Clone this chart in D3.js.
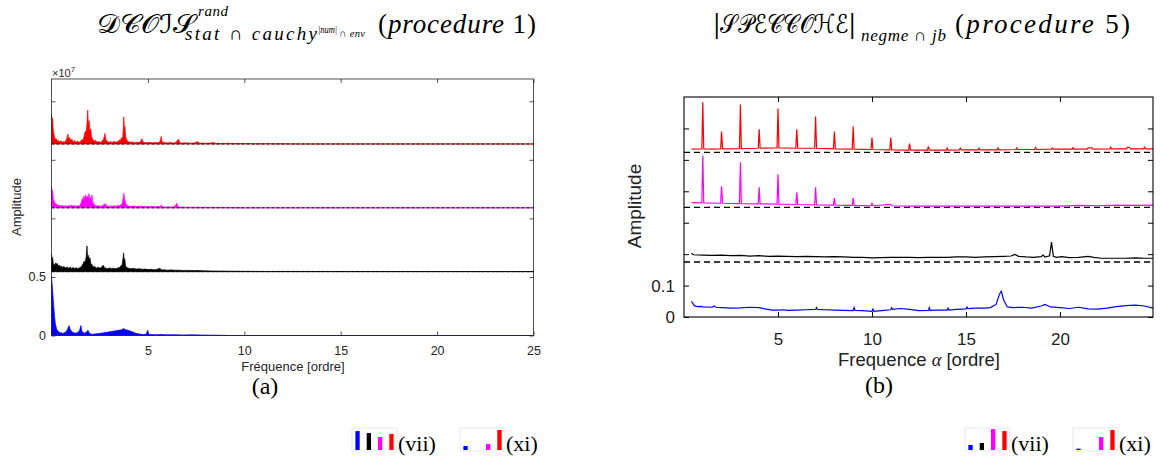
<!DOCTYPE html>
<html><head><meta charset="utf-8">
<script src="https://cdn.jsdelivr.net/npm/d3@7"></script>
<style>body{margin:0;background:#fff}svg{display:block}</style>
</head><body><svg id="c" width="1160" height="461"></svg>
<script>
// ---------- DATA ----------
const seriesColors = ["#0000ff", "#000000", "#ff00ff", "#ff0000"]; // blue, black, magenta, red

// panel (a)
const xTicksA = [5, 10, 15, 20, 25];
const yTicksA = [0, 0.5, 1, 1.5, 2];
const yTickLabelsA = ["0", "0.5", "", "", ""];
const offsetsA = [0, 0.545, 1.09, 1.635];
const blueA = [[0,0.5],[0.02,0.46],[0.04,0.43],[0.06,0.38],[0.08,0.33],[0.1,0.28],[0.12,0.24],[0.14,0.2],[0.16,0.16],[0.18,0.13],[0.2,0.1],[0.23,0.08],[0.26,0.06],[0.3,0.045],[0.35,0.035],[0.4,0.03],[0.46,0.022],[0.52,0.025],[0.58,0.018],[0.64,0.022],[0.7,0.025],[0.76,0.035],[0.82,0.05],[0.87,0.07],[0.91,0.085],[0.95,0.06],[1.0,0.045],[1.06,0.03],[1.14,0.025],[1.22,0.02],[1.3,0.022],[1.38,0.03],[1.45,0.04],[1.5,0.07],[1.53,0.085],[1.57,0.04],[1.63,0.025],[1.7,0.02],[1.78,0.025],[1.84,0.035],[1.89,0.045],[1.93,0.03],[2.0,0.015],[2.1,0.01],[2.2,0.012],[2.35,0.015],[2.5,0.018],[2.65,0.022],[2.8,0.026],[2.95,0.03],[3.1,0.034],[3.25,0.038],[3.4,0.042],[3.55,0.046],[3.65,0.05],[3.72,0.06],[3.78,0.055],[3.85,0.05],[3.95,0.045],[4.05,0.04],[4.15,0.034],[4.25,0.028],[4.35,0.02],[4.5,0.014],[4.65,0.01],[4.8,0.008],[4.93,0.015],[4.98,0.045],[5.02,0.012],[5.15,0.008],[5.4,0.007],[5.7,0.008],[6.0,0.006],[6.4,0.007],[6.8,0.005],[7.3,0.006],[7.8,0.004],[8.3,0.003],[8.8,0.002],[9.2,0],[25,0]];
const blackA = [[0,0.15],[0.03,0.1],[0.06,0.12],[0.09,0.07],[0.13,0.055],[0.17,0.06],[0.21,0.075],[0.25,0.065],[0.3,0.07],[0.35,0.05],[0.4,0.055],[0.46,0.04],[0.52,0.05],[0.58,0.035],[0.65,0.045],[0.72,0.032],[0.8,0.04],[0.88,0.03],[0.96,0.038],[1.04,0.028],[1.12,0.035],[1.2,0.026],[1.28,0.034],[1.36,0.025],[1.44,0.032],[1.52,0.04],[1.58,0.05],[1.64,0.07],[1.7,0.09],[1.75,0.08],[1.8,0.13],[1.84,0.22],[1.87,0.12],[1.91,0.14],[1.95,0.1],[1.99,0.12],[2.04,0.07],[2.1,0.06],[2.16,0.04],[2.24,0.045],[2.32,0.03],[2.42,0.038],[2.52,0.03],[2.6,0.04],[2.68,0.055],[2.74,0.035],[2.82,0.03],[2.92,0.025],[3.02,0.032],[3.12,0.025],[3.22,0.03],[3.32,0.024],[3.42,0.03],[3.52,0.035],[3.6,0.05],[3.66,0.06],[3.7,0.1],[3.74,0.16],[3.77,0.09],[3.8,0.11],[3.84,0.05],[3.9,0.035],[3.98,0.03],[4.1,0.025],[4.25,0.028],[4.4,0.022],[4.55,0.025],[4.7,0.02],[4.85,0.022],[5.0,0.018],[5.15,0.02],[5.3,0.016],[5.45,0.018],[5.55,0.025],[5.62,0.03],[5.7,0.015],[5.85,0.016],[6.0,0.013],[6.2,0.015],[6.4,0.012],[6.6,0.013],[6.8,0.01],[7.0,0.011],[7.3,0.009],[7.6,0.01],[7.9,0.007],[8.3,0.006],[8.8,0.005],[9.4,0.004],[10,0.003],[11,0.002],[12,0.002],[25,0.001]];
const magentaA = [[0,0.18],[0.03,0.13],[0.06,0.15],[0.09,0.08],[0.13,0.06],[0.17,0.045],[0.22,0.035],[0.28,0.03],[0.34,0.02],[0.4,0.025],[0.48,0.015],[0.56,0.02],[0.64,0.013],[0.72,0.018],[0.8,0.012],[0.88,0.02],[0.96,0.015],[1.04,0.022],[1.12,0.014],[1.2,0.02],[1.28,0.012],[1.36,0.018],[1.44,0.013],[1.5,0.03],[1.55,0.05],[1.6,0.08],[1.64,0.06],[1.68,0.1],[1.72,0.07],[1.77,0.11],[1.81,0.08],[1.86,0.1],[1.9,0.07],[1.94,0.12],[1.98,0.08],[2.02,0.09],[2.06,0.05],[2.1,0.11],[2.14,0.05],[2.2,0.03],[2.28,0.02],[2.36,0.015],[2.46,0.018],[2.56,0.012],[2.66,0.02],[2.74,0.03],[2.8,0.035],[2.86,0.015],[2.96,0.012],[3.06,0.016],[3.16,0.012],[3.26,0.018],[3.36,0.014],[3.46,0.02],[3.54,0.018],[3.62,0.03],[3.68,0.04],[3.72,0.09],[3.75,0.125],[3.79,0.08],[3.83,0.05],[3.9,0.02],[4.0,0.015],[4.15,0.013],[4.3,0.016],[4.45,0.012],[4.6,0.014],[4.75,0.011],[4.9,0.013],[5.05,0.01],[5.2,0.014],[5.35,0.01],[5.5,0.012],[5.62,0.01],[5.7,0.025],[5.76,0.008],[5.9,0.008],[6.1,0.009],[6.3,0.007],[6.45,0.02],[6.5,0.04],[6.55,0.01],[6.7,0.007],[6.9,0.006],[7.2,0.005],[7.5,0.006],[7.8,0.004],[8.2,0.004],[8.7,0.003],[9.2,0.002],[10,0.001],[25,0.001]];
const redA = [[0,0.26],[0.03,0.2],[0.06,0.22],[0.09,0.12],[0.12,0.09],[0.16,0.06],[0.2,0.04],[0.25,0.045],[0.3,0.025],[0.36,0.03],[0.42,0.018],[0.5,0.025],[0.56,0.015],[0.62,0.02],[0.68,0.014],[0.74,0.03],[0.8,0.05],[0.85,0.085],[0.89,0.04],[0.94,0.055],[1.0,0.03],[1.06,0.04],[1.12,0.02],[1.2,0.028],[1.28,0.016],[1.36,0.024],[1.44,0.014],[1.52,0.022],[1.58,0.04],[1.64,0.03],[1.7,0.075],[1.75,0.11],[1.8,0.1],[1.84,0.17],[1.88,0.29],[1.91,0.16],[1.95,0.2],[1.99,0.11],[2.03,0.13],[2.08,0.06],[2.14,0.04],[2.2,0.025],[2.28,0.03],[2.36,0.018],[2.45,0.02],[2.55,0.014],[2.64,0.025],[2.72,0.05],[2.77,0.09],[2.81,0.04],[2.88,0.025],[2.96,0.015],[3.05,0.02],[3.14,0.013],[3.24,0.022],[3.34,0.015],[3.44,0.02],[3.52,0.035],[3.58,0.03],[3.64,0.055],[3.69,0.05],[3.72,0.12],[3.75,0.23],[3.78,0.13],[3.81,0.15],[3.85,0.06],[3.9,0.035],[3.98,0.02],[4.08,0.015],[4.2,0.018],[4.32,0.01],[4.44,0.016],[4.55,0.012],[4.64,0.025],[4.69,0.045],[4.74,0.02],[4.82,0.012],[4.95,0.01],[5.1,0.014],[5.25,0.009],[5.4,0.013],[5.55,0.01],[5.64,0.025],[5.69,0.065],[5.73,0.02],[5.85,0.012],[6.0,0.009],[6.15,0.013],[6.3,0.008],[6.45,0.012],[6.56,0.035],[6.6,0.04],[6.65,0.01],[6.8,0.009],[7.0,0.01],[7.2,0.007],[7.4,0.009],[7.55,0.018],[7.6,0.02],[7.66,0.007],[7.85,0.008],[8.05,0.006],[8.25,0.008],[8.4,0.013],[8.5,0.006],[8.8,0.005],[9.1,0.006],[9.5,0.004],[10,0.004],[10.6,0.003],[11.2,0.003],[12,0.002],[13,0.001],[25,0.001]];

// panel (b)
const xTicksB = [5, 10, 15, 20];
const yTicksB = [0, 0.1, 0.2, 0.3, 0.4, 0.5, 0.6];
const yTickLabelsB = ["0", "0.1", "", "", "", "", ""];
const dashedB = [0.175, 0.349, 0.524];
const blueB = [[0.4,0.05],[0.45,0.045],[0.55,0.036],[0.7,0.033],[0.9,0.034],[1,0.032],[1.5,0.031],[1.6,0.035],[1.7,0.031],[2,0.03],[2.5,0.028],[3,0.029],[3.5,0.031],[4,0.03],[4.3,0.026],[4.7,0.022],[5,0.022],[5.3,0.023],[5.5,0.021],[6,0.022],[6.5,0.023],[7,0.024],[7.05,0.03],[7.1,0.024],[7.5,0.023],[8,0.022],[8.5,0.021],[9,0.02],[9.05,0.03],[9.1,0.021],[9.5,0.02],[10,0.018],[10.05,0.025],[10.1,0.018],[10.5,0.02],[11,0.023],[11.05,0.03],[11.1,0.024],[11.5,0.027],[12,0.024],[12.5,0.02],[13,0.021],[13.05,0.03],[13.1,0.021],[13.5,0.022],[14,0.022],[14.05,0.028],[14.1,0.022],[14.5,0.024],[15,0.026],[15.05,0.032],[15.1,0.027],[15.5,0.028],[16,0.028],[16.3,0.03],[16.6,0.04],[16.8,0.075],[16.88,0.082],[17.0,0.055],[17.2,0.032],[17.5,0.03],[18,0.031],[18.5,0.028],[19,0.035],[19.2,0.04],[19.5,0.032],[20,0.03],[20.5,0.027],[21,0.031],[21.5,0.026],[22,0.025],[22.5,0.028],[23,0.033],[23.5,0.036],[24,0.038],[24.5,0.035],[24.95,0.028]];
const blackB = [[0.4,0.203],[0.5,0.198],[1,0.197],[1.5,0.196],[2,0.197],[2.5,0.195],[3,0.196],[3.5,0.194],[4,0.195],[4.5,0.193],[5,0.194],[5.5,0.193],[6,0.192],[6.5,0.193],[7,0.192],[7.5,0.191],[8,0.192],[8.5,0.191],[9,0.19],[9.5,0.19],[10,0.188],[10.5,0.189],[11,0.19],[11.5,0.19],[12,0.19],[12.5,0.189],[13,0.19],[13.5,0.19],[14,0.19],[14.5,0.191],[15,0.191],[15.5,0.19],[16,0.191],[16.5,0.192],[17,0.193],[17.4,0.194],[17.6,0.199],[17.8,0.193],[18.2,0.191],[18.6,0.19],[19.0,0.192],[19.1,0.197],[19.2,0.191],[19.45,0.195],[19.55,0.238],[19.65,0.193],[19.8,0.19],[20.1,0.192],[20.5,0.189],[21,0.19],[21.5,0.193],[21.8,0.19],[22.2,0.187],[23,0.187],[23.5,0.187],[24,0.188],[24.5,0.187],[24.95,0.187]];
const magentaB = [[0.4,0.364],[0.95,0.363],[1,0.514],[1.05,0.363],[1.95,0.362],[2,0.416],[2.05,0.362],[2.95,0.361],[3,0.492],[3.05,0.361],[3.95,0.36],[4,0.413],[4.05,0.36],[4.95,0.359],[5,0.454],[5.05,0.359],[5.95,0.358],[6,0.397],[6.05,0.358],[6.95,0.357],[7,0.413],[7.05,0.357],[7.95,0.356],[8,0.378],[8.05,0.356],[8.95,0.355],[9,0.378],[9.05,0.355],[9.95,0.354],[10,0.362],[10.05,0.354],[11,0.358],[11.05,0.354],[12,0.353],[14,0.353],[16,0.353],[18,0.353],[20,0.353],[21,0.355],[22,0.354],[23,0.356],[24,0.355],[24.95,0.356]];
const redB = [[0.4,0.534],[0.95,0.535],[1,0.683],[1.05,0.535],[1.5,0.534],[1.95,0.535],[2,0.59],[2.05,0.535],[2.95,0.536],[3,0.676],[3.05,0.536],[3.95,0.537],[4,0.597],[4.05,0.537],[4.95,0.538],[5,0.663],[5.05,0.538],[5.95,0.537],[6,0.597],[6.05,0.537],[6.95,0.537],[7,0.638],[7.05,0.537],[7.95,0.535],[8,0.59],[8.05,0.535],[8.95,0.534],[9,0.606],[9.05,0.534],[9.95,0.533],[10,0.571],[10.05,0.533],[10.95,0.532],[11,0.571],[11.05,0.532],[11.95,0.531],[12,0.552],[12.05,0.531],[12.95,0.531],[13,0.543],[13.05,0.531],[13.95,0.531],[14,0.538],[14.05,0.531],[14.65,0.532],[14.7,0.537],[14.75,0.532],[15.65,0.532],[15.7,0.537],[15.75,0.532],[16.65,0.532],[16.7,0.538],[16.75,0.532],[17.65,0.533],[17.7,0.538],[17.75,0.533],[18.65,0.533],[18.7,0.539],[18.75,0.533],[19.55,0.534],[19.6,0.538],[19.65,0.534],[20.65,0.534],[20.7,0.539],[20.75,0.534],[21.45,0.534],[21.5,0.538],[21.7,0.538],[21.75,0.534],[22.65,0.535],[22.7,0.54],[22.75,0.535],[23.55,0.535],[23.6,0.54],[23.7,0.54],[23.75,0.535],[24.45,0.535],[24.5,0.54],[24.55,0.535],[24.95,0.535]];

// legend glyphs (relative bar heights: blue, black, magenta, red)
const legendA_vii = [0.86, 0.77, 0.59, 0.73];
const legendA_xi  = [0.18, 0, 0.27, 0.91];
const legendB_vii = [0.23, 0.32, 0.95, 0.86];
const legendB_xi  = [0.06, 0, 0.59, 0.91];

// ---------- DRAW ----------
const svg = d3.select("#c");
svg.append("rect").attr("width",1160).attr("height",461).attr("fill","#fff");
const SANS = "'Liberation Sans', Arial, Helvetica, sans-serif";
const SERIF = "'Liberation Serif', 'DejaVu Serif', serif";
const SCRIPT = "'DejaVu Serif', 'DejaVu Sans', 'Noto Sans', serif";

// ===== Panel (a) =====
const xA = d3.scaleLinear([0, 25], [51.5, 533.5]);
const yA = d3.scaleLinear([0, 2.19], [335.5, 79]);
const gA = svg.append("g");
const seriesA = [blueA, blackA, magentaA, redA];
seriesA.forEach((s, i) => {
  const off = offsetsA[i];
  const area = d3.area().x(d => xA(d[0])).y0(yA(off)).y1(d => yA(off + d[1]));
  gA.append("path").attr("d", area(s)).attr("fill", seriesColors[i]).attr("stroke", seriesColors[i]).attr("stroke-width", 0.7);
});
offsetsA.slice(1).forEach(o => {
  gA.append("line").attr("x1", xA(0)).attr("x2", xA(25)).attr("y1", yA(o)).attr("y2", yA(o))
    .attr("stroke", "#000").attr("stroke-width", 0.9).attr("stroke-dasharray", "3,2");
});
gA.append("rect").attr("x", xA(0)).attr("y", yA(2.19)).attr("width", xA(25) - xA(0)).attr("height", yA(0) - yA(2.19))
  .attr("fill", "none").attr("stroke", "#262626").attr("stroke-width", 0.8);
const axBA = gA.append("g").attr("transform", `translate(0,${yA(0)})`)
  .call(d3.axisBottom(xA).tickValues(xTicksA).tickSize(-4).tickSizeOuter(0).tickPadding(11).tickFormat(d3.format("d")));
const axTA = gA.append("g").attr("transform", `translate(0,${yA(2.19)})`)
  .call(d3.axisTop(xA).tickValues(xTicksA).tickSize(-4).tickSizeOuter(0).tickFormat(""));
const axLA = gA.append("g").attr("transform", `translate(${xA(0)},0)`)
  .call(d3.axisLeft(yA).tickValues(yTicksA).tickSize(-4).tickSizeOuter(0).tickPadding(5.5).tickFormat((d, i) => yTickLabelsA[i]));
const axRA = gA.append("g").attr("transform", `translate(${xA(25)},0)`)
  .call(d3.axisRight(yA).tickValues(yTicksA).tickSize(-4).tickSizeOuter(0).tickFormat(""));
[axBA, axTA, axLA, axRA].forEach(a => {
  a.select(".domain").remove();
  a.selectAll("line").attr("stroke", "#262626").attr("stroke-width", 0.8);
  a.selectAll("text").attr("fill", "#262626").style("font-family", SANS).style("font-size", "12.5px");
});
const expA = gA.append("text").attr("x", 52).attr("y", 77).style("font-family", SANS).style("font-size", "11px").attr("fill", "#262626");
expA.append("tspan").text("×10");
expA.append("tspan").attr("dy", -5).style("font-size", "8px").text("7");
gA.append("text").attr("transform", "translate(21,207) rotate(-90)").attr("text-anchor", "middle")
  .style("font-family", SANS).style("font-size", "13px").attr("fill", "#262626").text("Amplitude");
gA.append("text").attr("x", 293).attr("y", 371).attr("text-anchor", "middle")
  .style("font-family", SANS).style("font-size", "13px").attr("fill", "#262626").text("Fréquence [ordre]");
gA.append("text").attr("x", 265).attr("y", 394).attr("text-anchor", "middle")
  .style("font-family", SERIF).style("font-size", "24px").attr("fill", "#000").text("(a)");

// ===== Panel (b) =====
const xB = d3.scaleLinear([0, 24.95], [684, 1153]);
const yB = d3.scaleLinear([0, 0.7], [317, 97]);
const gB = svg.append("g");
dashedB.forEach(o => {
  gB.append("line").attr("x1", xB(0)).attr("x2", xB(24.95)).attr("y1", yB(o)).attr("y2", yB(o))
    .attr("stroke", "#000").attr("stroke-width", 1.3).attr("stroke-dasharray", "6,4");
});
const seriesB = [blueB, blackB, magentaB, redB];
const lineB = d3.line().x(d => xB(d[0])).y(d => yB(d[1]));
seriesB.forEach((s, i) => {
  gB.append("path").attr("d", lineB(s)).attr("fill", "none").attr("stroke", seriesColors[i]).attr("stroke-width", 1.2);
});
gB.append("rect").attr("x", xB(0)).attr("y", yB(0.7)).attr("width", xB(24.95) - xB(0)).attr("height", yB(0) - yB(0.7))
  .attr("fill", "none").attr("stroke", "#000").attr("stroke-width", 1.1);
const axBB = gB.append("g").attr("transform", `translate(0,${yB(0)})`)
  .call(d3.axisBottom(xB).tickValues(xTicksB).tickSize(-5).tickSizeOuter(0).tickPadding(16).tickFormat(d3.format("d")));
const axTB = gB.append("g").attr("transform", `translate(0,${yB(0.7)})`)
  .call(d3.axisTop(xB).tickValues(xTicksB).tickSize(-5).tickSizeOuter(0).tickFormat(""));
const axLB = gB.append("g").attr("transform", `translate(${xB(0)},0)`)
  .call(d3.axisLeft(yB).tickValues(yTicksB).tickSize(-5).tickSizeOuter(0).tickPadding(9).tickFormat((d, i) => yTickLabelsB[i]));
const axRB = gB.append("g").attr("transform", `translate(${xB(24.95)},0)`)
  .call(d3.axisRight(yB).tickValues(yTicksB).tickSize(-5).tickSizeOuter(0).tickFormat(""));
[axBB, axTB, axLB, axRB].forEach(a => {
  a.select(".domain").remove();
  a.selectAll("line").attr("stroke", "#000").attr("stroke-width", 1);
  a.selectAll("text").attr("fill", "#222").style("font-family", SANS).style("font-size", "17px");
});
gB.append("text").attr("transform", "translate(641,206) rotate(-90)").attr("text-anchor", "middle")
  .style("font-family", SANS).style("font-size", "19px").attr("fill", "#222").text("Amplitude");
const xlabB = gB.append("text").attr("x", 919).attr("y", 366).attr("text-anchor", "middle")
  .style("font-family", SANS).style("font-size", "18.5px").attr("fill", "#222");
xlabB.append("tspan").text("Frequence ");
xlabB.append("tspan").style("font-family", SERIF).style("font-style", "italic").text("α");
xlabB.append("tspan").text(" [ordre]");
gB.append("text").attr("x", 879).attr("y", 393).attr("text-anchor", "middle")
  .style("font-family", SERIF).style("font-size", "24px").attr("fill", "#000").text("(b)");

// ===== Titles =====
function txt(x, y, s, size, opts = {}) {
  const t = svg.append("text").attr("x", x).attr("y", y).style("font-size", size + "px")
    .style("font-family", opts.family || SERIF).style("font-style", opts.italic ? "italic" : "normal").attr("fill", "#000").text(s);
  if (opts.len) t.attr("textLength", opts.len).attr("lengthAdjust", opts.adjust || "spacing");
  return t;
}
txt(97, 33, "𝒟𝒞𝒪ℐ𝒮", 26, {family: SCRIPT, len: 98, adjust: "spacingAndGlyphs"});
txt(198, 16, "rand", 15, {italic: true, len: 30});
txt(185, 40, "stat ∩ cauchy", 19, {italic: true, len: 132});
txt(318, 33, "|num|", 9.5, {italic: true, len: 19, adjust: "spacingAndGlyphs"});
txt(339, 37, "∩ env", 10.5, {italic: true, len: 26});
const p1 = txt(378, 33, "", 27, {len: 158});
p1.append("tspan").text("(");
p1.append("tspan").style("font-style", "italic").text("procedure");
p1.append("tspan").text(" 1)");

txt(713, 33, "|𝒮𝒫ℰ𝒞𝒞𝒪ℋℰ|", 26, {family: SCRIPT, len: 143, adjust: "spacingAndGlyphs"});
txt(861, 41, "negme ∩ jb", 17, {italic: true, len: 85});
const p5 = txt(955, 33, "", 27, {len: 175});
p5.append("tspan").text("(");
p5.append("tspan").style("font-style", "italic").text("procedure");
p5.append("tspan").text(" 5)");

// ===== Legend glyphs =====
function legend(x0, vals, label) {
  const g = svg.append("g");
  const yL = d3.scaleLinear([0, 1], [450, 428]);
  const xL = d3.scaleBand().domain([0, 1, 2, 3]).range([x0, x0 + 45]).paddingInner(0.62).paddingOuter(0.3);
  g.append("rect").attr("x", x0).attr("y", 428).attr("width", 45).attr("height", 23)
    .attr("fill", "none").attr("stroke", "#e4e4e4").attr("stroke-width", 0.8);
  vals.forEach((v, i) => {
    if (v <= 0) return;
    g.append("rect").attr("x", xL(i)).attr("width", xL.bandwidth()).attr("y", yL(v)).attr("height", yL(0) - yL(v))
      .attr("fill", seriesColors[i]);
  });
  g.append("text").attr("x", x0 + 46).attr("y", 451).style("font-family", SERIF).style("font-size", "22px")
    .attr("fill", "#000").text(label);
}
legend(352, legendA_vii, "(vii)");
legend(460, legendA_xi, "(xi)");
legend(965, legendB_vii, "(vii)");
legend(1073, legendB_xi, "(xi)");
</script></body></html>
